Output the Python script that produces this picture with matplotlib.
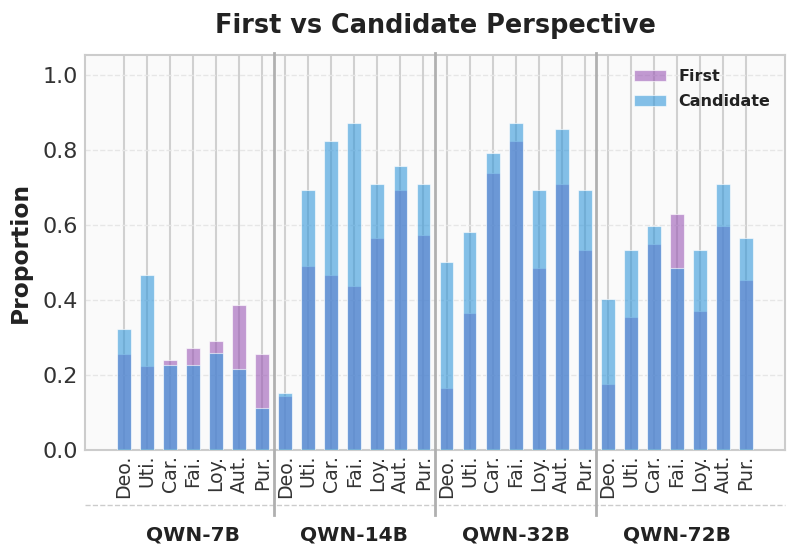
import matplotlib
matplotlib.use("Agg")
import matplotlib.pyplot as plt
import numpy as np

models = ["QWN-7B", "QWN-14B", "QWN-32B", "QWN-72B"]
values_short = ["Deo.", "Uti.", "Car.", "Fai.", "Loy.", "Aut.", "Pur."]

first = [
    [0.256, 0.225, 0.241, 0.273, 0.291, 0.386, 0.257],
    [0.144, 0.491, 0.467, 0.436, 0.565, 0.694, 0.574],
    [0.165, 0.365, 0.739, 0.824, 0.484, 0.710, 0.533],
    [0.176, 0.355, 0.549, 0.628, 0.370, 0.597, 0.452],
]
candidate = [
    [0.322, 0.467, 0.226, 0.226, 0.258, 0.217, 0.111],
    [0.151, 0.694, 0.824, 0.872, 0.710, 0.758, 0.710],
    [0.500, 0.580, 0.791, 0.872, 0.694, 0.855, 0.694],
    [0.403, 0.532, 0.596, 0.484, 0.532, 0.710, 0.565],
]

fig = plt.figure(figsize=(7.97, 5.57), dpi=100)
ax = fig.add_axes([85/797, 1-450/557, 700/797, 395/557])
ax.set_facecolor("#fafafa")

nv = len(values_short)
x = np.arange(len(models) * nv)
f_vals = np.array(first).ravel()
c_vals = np.array(candidate).ravel()

ax.bar(x, f_vals, width=0.6, color="#9b59b6", alpha=0.6, edgecolor="white",
       linewidth=0.8, label="First", zorder=2)
ax.bar(x, c_vals, width=0.6, color="#3498db", alpha=0.6, edgecolor="white",
       linewidth=0.8, label="Candidate", zorder=3)

ax.set_xlim(-1.69, len(x) - 1 + 1.69)
ax.set_ylim(0, 1.053)
ax.set_yticks([0.0, 0.2, 0.4, 0.6, 0.8, 1.0])
ax.set_yticklabels(["0.0", "0.2", "0.4", "0.6", "0.8", "1.0"])
ax.set_xticks(x)
ax.set_xticklabels(values_short * len(models), rotation=90)
ax.tick_params(axis="y", length=0, pad=5, labelsize=16, labelcolor="#333333")
ax.tick_params(axis="x", length=0, pad=3.5, labelsize=13.6, labelcolor="#333333")

ax.set_axisbelow(True)
ax.grid(axis="x", color="#d0d0d0", linewidth=1.5, linestyle="-")
ax.grid(axis="y", color="#e6e6e6", linewidth=1.0, linestyle="--")

for s in ax.spines.values():
    s.set_color("#cccccc")
    s.set_linewidth(1.5)

trans = ax.get_xaxis_transform()
for g in range(1, len(models)):
    xs = g * nv - 0.5
    ax.plot([xs, xs], [-0.165, 1.005], transform=trans, color="#b0b0b0",
            linewidth=2, clip_on=False, zorder=4)

ax.plot([0, 1], [-0.139, -0.139], transform=ax.transAxes, color="#cccccc",
        linewidth=1, linestyle="--", clip_on=False)

for g, m in enumerate(models):
    xc = g * nv + (nv - 1) / 2
    ax.text(xc, -0.215, m, transform=trans, ha="center", va="center",
            fontsize=14.5, fontweight="bold", color="#222222")

ax.set_title("First vs Candidate Perspective", fontsize=18.4, fontweight="bold",
             color="#222222", pad=16)
ax.set_ylabel("Proportion", fontsize=16.8, fontweight="bold", color="#222222",
              labelpad=8)

leg = ax.legend(loc="upper left", bbox_to_anchor=(0.784, 0.965), frameon=False,
                borderpad=0, borderaxespad=0, labelspacing=0.62,
                prop={"size": 11.5, "weight": "bold"})
for t in leg.get_texts():
    t.set_color("#222222")

fig.savefig("out.png", dpi=100)
